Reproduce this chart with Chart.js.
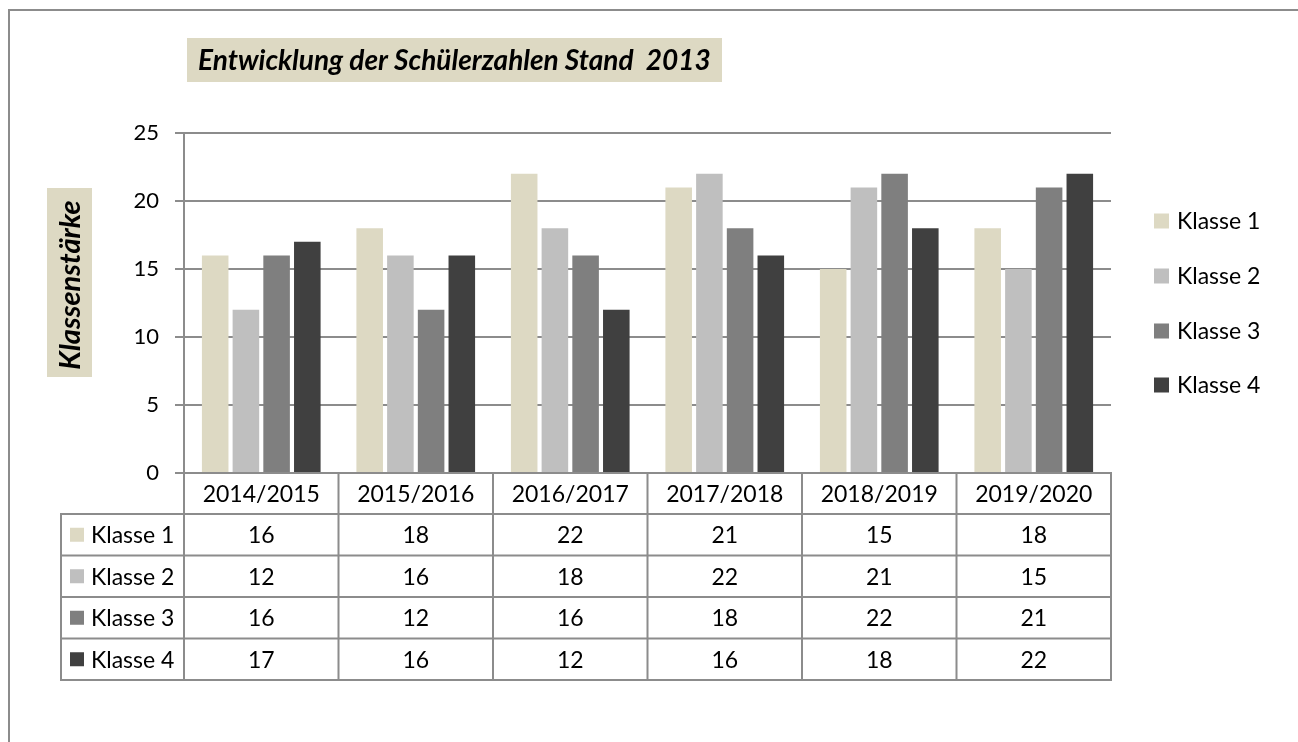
<!DOCTYPE html>
<html>
<head>
<meta charset="utf-8">
<script src="https://cdn.jsdelivr.net/npm/chart.js@4.4.0/dist/chart.umd.min.js"></script>
<style>
  html, body { margin: 0; padding: 0; background: #fff; }
  #wrap { width: 1298px; height: 742px; }
</style>
</head>
<body>
<div id="wrap"><canvas id="schuelerChart" width="1298" height="742"></canvas></div>
<script>
// Data
const categories = ["2014/2015", "2015/2016", "2016/2017", "2017/2018", "2018/2019", "2019/2020"];
const seriesNames = ["Klasse 1", "Klasse 2", "Klasse 3", "Klasse 4"];
const klasse1 = [16, 18, 22, 21, 15, 18];
const klasse2 = [12, 16, 18, 22, 21, 15];
const klasse3 = [16, 12, 16, 18, 22, 21];
const klasse4 = [17, 16, 12, 16, 18, 22];
const titleText = "Entwicklung der Schülerzahlen Stand  2013";
const yAxisTitle = "Klassenstärke";

const seriesValues = [klasse1, klasse2, klasse3, klasse4];
const seriesColors = ["#ddd9c3", "#bfbfbf", "#7f7f7f", "#404040"];
const lineColor = "#8c8c8c";
const fontFamily = "Lato, 'Open Sans', sans-serif";

// draws frame, title, axis title, legend and the data table
const decorPlugin = {
  id: "decor",
  afterDraw(chart) {
    const ctx = chart.ctx;
    const area = chart.chartArea;
    const xScale = chart.scales.x;
    ctx.save();

    // outer frame
    ctx.strokeStyle = lineColor;
    ctx.lineWidth = 2;
    ctx.beginPath();
    ctx.moveTo(9, 742);
    ctx.lineTo(9, 10);
    ctx.lineTo(1298, 10);
    ctx.stroke();

    // title box
    ctx.fillStyle = "#ddd9c3";
    ctx.fillRect(187, 38, 535, 44);
    ctx.fillStyle = "#000";
    ctx.font = "italic bold 28px " + fontFamily;
    ctx.textBaseline = "middle";
    ctx.textAlign = "left";
    ctx.fillText(titleText, 198, 61);

    // y axis title box
    ctx.fillStyle = "#ddd9c3";
    ctx.fillRect(47, 188, 45, 189);
    ctx.fillStyle = "#000";
    ctx.save();
    ctx.translate(70, 285);
    ctx.rotate(-Math.PI / 2);
    ctx.textAlign = "center";
    ctx.font = "italic bold 29px " + fontFamily;
    ctx.fillText(yAxisTitle, 0, 1);
    ctx.restore();

    // legend
    ctx.font = "23px " + fontFamily;
    ctx.textAlign = "left";
    const legendY = [221, 276, 331, 385];
    seriesNames.forEach((name, i) => {
      ctx.fillStyle = seriesColors[i];
      ctx.fillRect(1154, legendY[i] - 7.5, 15, 15);
      ctx.fillStyle = "#000";
      ctx.fillText(name, 1177, legendY[i] + 1);
    });

    // data table
    const tableTop = area.bottom + 41;
    const rowH = 41.5;
    const tableBottom = tableTop + rowH * seriesNames.length;
    const tableLeft = 61;
    const bounds = [area.left];
    for (let i = 0; i < categories.length - 1; i++) {
      bounds.push((xScale.getPixelForTick(i) + xScale.getPixelForTick(i + 1)) / 2);
    }
    bounds.push(area.right);

    ctx.strokeStyle = lineColor;
    ctx.lineWidth = 2;
    ctx.beginPath();
    bounds.forEach((bx) => {
      ctx.moveTo(bx, area.bottom);
      ctx.lineTo(bx, tableBottom);
    });
    ctx.moveTo(tableLeft, tableTop);
    ctx.lineTo(tableLeft, tableBottom);
    for (let r = 0; r <= seriesNames.length; r++) {
      const y = tableTop + r * rowH;
      ctx.moveTo(tableLeft - 1, y);
      ctx.lineTo(area.right + 1, y);
    }
    ctx.stroke();

    ctx.font = "23px " + fontFamily;
    ctx.textBaseline = "middle";
    seriesNames.forEach((name, r) => {
      const cy = tableTop + r * rowH + rowH / 2;
      ctx.fillStyle = seriesColors[r];
      ctx.fillRect(70, cy - 7, 14, 14);
      ctx.fillStyle = "#000";
      ctx.textAlign = "left";
      ctx.fillText(name, 91, cy + 1);
      ctx.textAlign = "center";
      seriesValues[r].forEach((v, c) => {
        ctx.fillText(String(v), xScale.getPixelForTick(c), cy + 1);
      });
    });

    ctx.restore();
  }
};

const ctx = document.getElementById("schuelerChart").getContext("2d");

const chart = new Chart(ctx, {
  type: "bar",
  data: {
    labels: categories,
    datasets: seriesNames.map((name, i) => ({
      label: name,
      data: seriesValues[i],
      backgroundColor: seriesColors[i],
      borderWidth: 0,
      categoryPercentage: 0.795,
      barPercentage: 0.865
    }))
  },
  options: {
    responsive: false,
    animation: false,
    layout: {
      padding: { left: 100, top: 133, right: 187, bottom: 228 }
    },
    plugins: {
      legend: { display: false },
      title: { display: false },
      tooltip: { enabled: false }
    },
    scales: {
      x: {
        grid: { display: false, drawTicks: false },
        border: { display: true, color: lineColor, width: 2 },
        ticks: {
          color: "#000",
          font: { family: fontFamily, size: 23 },
          padding: 8,
          maxRotation: 0
        },
        afterFit: (axis) => { axis.height = 41; }
      },
      y: {
        min: 0,
        max: 25,
        ticks: {
          stepSize: 5,
          color: "#000",
          font: { family: fontFamily, size: 22 },
          padding: 16
        },
        grid: { color: lineColor, lineWidth: 2, tickLength: 9 },
        border: { display: true, color: lineColor, width: 2 },
        afterFit: (axis) => { axis.width = 84; }
      }
    }
  },
  plugins: [decorPlugin]
});
</script>
</body>
</html>
